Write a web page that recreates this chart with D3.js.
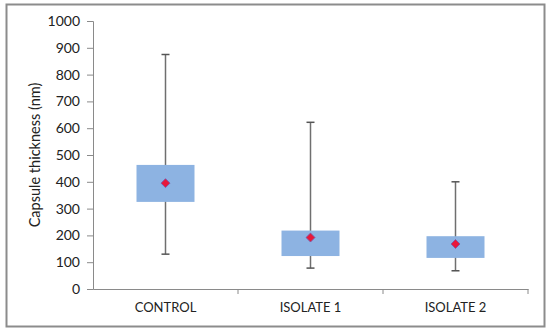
<!DOCTYPE html>
<html>
<head>
<meta charset="utf-8">
<script src="https://cdn.jsdelivr.net/npm/d3@7"></script>
<style>
  body { margin: 0; background: #fff; }
  text { font-family: Lato, "Open Sans", sans-serif; fill: #222; }
</style>
</head>
<body>
<svg id="chart" width="550" height="332"></svg>
<script>
var categories = ["CONTROL", "ISOLATE 1", "ISOLATE 2"];
var whiskerLow = [130, 78, 68];
var boxLow = [325, 123, 116];
var boxHigh = [463, 218, 197];
var whiskerHigh = [875, 622, 400];
var means = [395, 192, 168];
var yTicks = [0, 100, 200, 300, 400, 500, 600, 700, 800, 900, 1000];

var margin = {top: 21, right: 22, bottom: 43, left: 93};
var svgWidth = 550, svgHeight = 332;
var width = svgWidth - margin.left - margin.right;
var height = svgHeight - margin.top - margin.bottom;

var svg = d3.select("#chart");

// outer frame
svg.append("rect")
  .attr("x", 6.5).attr("y", 4.5)
  .attr("width", 538).attr("height", 322)
  .attr("fill", "#fff")
  .attr("stroke", "#8c8c8c")
  .attr("stroke-width", 2);

var g = svg.append("g")
  .attr("transform", "translate(" + margin.left + "," + margin.top + ")");

var x = d3.scaleBand().domain(categories).range([0, width]);
var y = d3.scaleLinear().domain([0, 1000]).range([height, 0]);

var data = categories.map(function(c, i) {
  return {cat: c, lo: whiskerLow[i], q1: boxLow[i], q3: boxHigh[i], hi: whiskerHigh[i], mean: means[i]};
});

// y axis
var yAxis = g.append("g")
  .call(d3.axisLeft(y).tickValues(yTicks).tickFormat(d3.format("d")).tickSize(6).tickPadding(7));
yAxis.selectAll("line, path").attr("stroke", "#8a8a8a");
yAxis.selectAll("text").style("font-size", "14px").attr("fill", "#222");

// x axis
var xAxis = g.append("g")
  .attr("transform", "translate(0," + height + ")")
  .call(d3.axisBottom(x).tickSize(0).tickPadding(14));
xAxis.select("path").attr("stroke", "#8a8a8a");
xAxis.selectAll("text").style("font-size", "13px").attr("fill", "#222");
// category separators
g.append("g").selectAll("line")
  .data(categories)
  .join("line")
    .attr("x1", d => x(d) + x.bandwidth())
    .attr("x2", d => x(d) + x.bandwidth())
    .attr("y1", height)
    .attr("y2", height + 5)
    .attr("stroke", "#8a8a8a");

// axis title
svg.append("text")
  .attr("transform", "translate(40," + (margin.top + height / 2) + ") rotate(-90)")
  .attr("text-anchor", "middle")
  .style("font-size", "14.5px")
  .text("Capsule thickness (nm)");

var boxW = 58;
var capW = 8;
var boxes = g.append("g").selectAll("g")
  .data(data)
  .join("g")
    .attr("transform", d => "translate(" + (x(d.cat) + x.bandwidth() / 2) + ",0)");

boxes.append("line")
  .attr("x1", 0).attr("x2", 0)
  .attr("y1", d => y(d.lo)).attr("y2", d => y(d.hi))
  .attr("stroke", "#6f6f6f").attr("stroke-width", 1.5);
boxes.append("line")
  .attr("x1", -capW / 2).attr("x2", capW / 2)
  .attr("y1", d => y(d.hi)).attr("y2", d => y(d.hi))
  .attr("stroke", "#555").attr("stroke-width", 1.5);
boxes.append("line")
  .attr("x1", -capW / 2).attr("x2", capW / 2)
  .attr("y1", d => y(d.lo)).attr("y2", d => y(d.lo))
  .attr("stroke", "#555").attr("stroke-width", 1.5);

boxes.append("rect")
  .attr("x", -boxW / 2)
  .attr("width", boxW)
  .attr("y", d => y(d.q3))
  .attr("height", d => y(d.q1) - y(d.q3))
  .attr("fill", "#8db3e2");

boxes.append("path")
  .attr("d", d3.symbol().type(d3.symbolSquare).size(40))
  .attr("transform", d => "translate(0," + y(d.mean) + ") rotate(45)")
  .attr("fill", "#e8173a")
  .attr("stroke", "#7a5aa8")
  .attr("stroke-width", 0.8);
</script>
</body>
</html>
